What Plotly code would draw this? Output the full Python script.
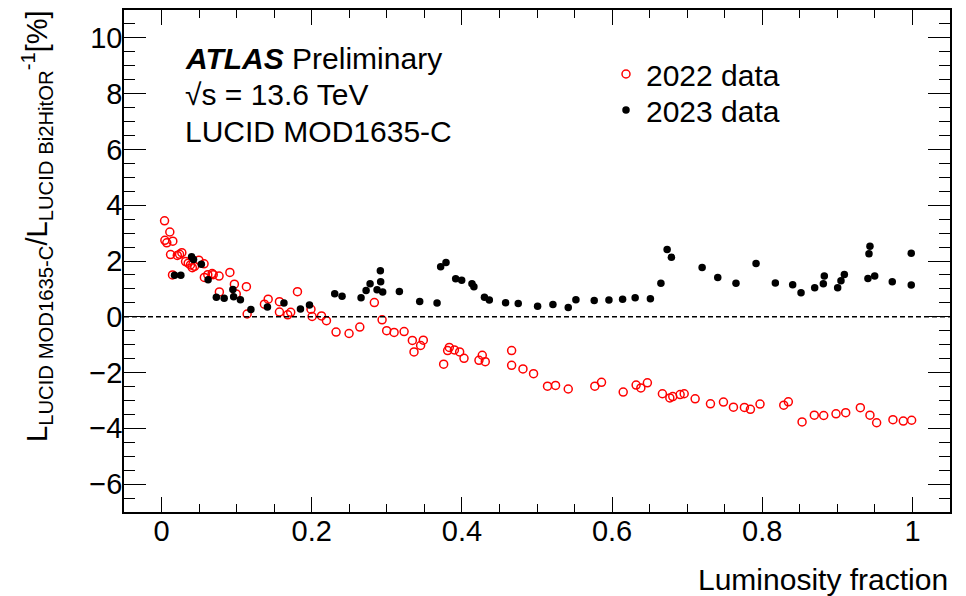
import plotly.graph_objects as go

# ---- data ----
x2022 = [0.004, 0.0044, 0.007, 0.011, 0.012, 0.015, 0.0146, 0.021, 0.024, 0.027,
         0.032, 0.0355, 0.0385, 0.041, 0.044, 0.0497, 0.0566, 0.057, 0.0616, 0.0674,
         0.0688, 0.0766, 0.077, 0.091, 0.097, 0.0995, 0.113, 0.114, 0.137, 0.142,
         0.157, 0.157, 0.168, 0.172, 0.181, 0.199, 0.2005, 0.213, 0.2196, 0.2324,
         0.2497, 0.264, 0.2834, 0.2937, 0.2998, 0.3097, 0.323, 0.334, 0.3362, 0.345,
         0.3486, 0.3757, 0.381, 0.3832, 0.39, 0.397, 0.4028, 0.4227, 0.4271, 0.4311,
         0.4662, 0.4662, 0.4813, 0.4954, 0.514, 0.5247, 0.5416, 0.577, 0.5859, 0.6148,
         0.632, 0.6383, 0.647, 0.667, 0.6769, 0.6808, 0.6906, 0.696, 0.7106, 0.731,
         0.7483, 0.7616, 0.7762, 0.7842, 0.797, 0.8286, 0.8347, 0.853, 0.8693, 0.8818,
         0.8982, 0.9111, 0.9306, 0.9434, 0.9523, 0.974, 0.9878, 0.9989]
y2022 = [3.44, 2.74, 2.65, 3.04, 2.23, 2.71, 1.50, 2.20, 2.24, 2.30,
         1.98, 1.92, 1.86, 1.76, 1.81, 2.03, 1.90, 1.41, 1.51, 1.55,
         1.51, 1.46, 0.89, 1.59, 1.17, 0.82, 1.08, 0.10, 0.45, 0.63,
         0.54, 0.17, 0.07, 0.16, 0.90, 0.27, 0.01, 0.03, -0.14, -0.55,
         -0.60, -0.37, 0.51, -0.11, -0.50, -0.56, -0.53, -0.85, -1.26, -1.03,
         -0.84, -1.70, -1.21, -1.10, -1.19, -1.26, -1.49, -1.56, -1.38, -1.61,
         -1.21, -1.74, -1.87, -2.04, -2.49, -2.46, -2.59, -2.49, -2.35, -2.70,
         -2.45, -2.55, -2.37, -2.76, -2.91, -2.86, -2.79, -2.76, -2.94, -3.12,
         -3.06, -3.24, -3.25, -3.32, -3.13, -3.17, -3.05, -3.77, -3.53, -3.54,
         -3.48, -3.44, -3.26, -3.53, -3.80, -3.69, -3.74, -3.71]

x2023 = [0.0173, 0.0257, 0.04, 0.0426, 0.053, 0.062, 0.073, 0.0834, 0.095, 0.096,
         0.105, 0.119, 0.141, 0.163, 0.185, 0.197, 0.2306, 0.2404, 0.2657, 0.2724,
         0.2777, 0.287, 0.2914, 0.2918, 0.2945, 0.3167, 0.3438, 0.3669, 0.3717, 0.3788,
         0.3917, 0.3997, 0.4134, 0.416, 0.430, 0.4365, 0.4582, 0.475, 0.5008, 0.5212,
         0.5416, 0.5518, 0.5762, 0.5958, 0.614, 0.6307, 0.651, 0.665, 0.6733, 0.679,
         0.7199, 0.7407, 0.765, 0.7917, 0.8174, 0.8405, 0.8516, 0.8698, 0.8813, 0.8826,
         0.9004, 0.9048, 0.9093, 0.9407, 0.9421, 0.9434, 0.9497, 0.9731, 0.9984, 0.9984]
y2023 = [1.49, 1.49, 2.15, 2.05, 1.88, 1.33, 0.70, 0.66, 0.98, 0.72,
         0.61, 0.26, 0.35, 0.49, 0.28, 0.42, 0.83, 0.74, 0.68, 0.94,
         1.18, 0.97, 1.65, 1.26, 0.89, 0.91, 0.55, 0.49, 1.79, 1.95,
         1.36, 1.31, 1.18, 1.08, 0.70, 0.60, 0.50, 0.48, 0.38, 0.44,
         0.33, 0.61, 0.58, 0.60, 0.63, 0.68, 0.65, 1.20, 2.41, 2.13,
         1.77, 1.41, 1.20, 1.91, 1.21, 1.15, 0.86, 1.04, 1.18, 1.46,
         1.04, 1.29, 1.52, 1.37, 2.26, 2.53, 1.46, 1.26, 2.28, 1.14]

x_ticks = [0, 0.2, 0.4, 0.6, 0.8, 1]
x_tick_labels = ["0", "0.2", "0.4", "0.6", "0.8", "1"]
y_ticks = [-6, -4, -2, 0, 2, 4, 6, 8, 10]
x_range = [-0.05, 1.05]
y_range = [-7, 11]

FONT = "Liberation Sans, Arial, Helvetica, sans-serif"

# page body has an 8px margin: figure sized so the plot box lands at x 124-950, y 10-512
W, H = 958, 588
L, R, T, B = 116, 16, 2, 84
PX0, PY1, PW, PH = 124, 512, 826, 502  # absolute plot box (incl. 8px body offset)


def px(xabs):
    return (xabs - PX0) / PW


def py(yabs):
    return (PY1 - yabs) / PH


fig = go.Figure()
fig.add_trace(go.Scatter(
    x=x2022, y=y2022, mode="markers", name="2022 data", legend="legend",
    marker=dict(symbol="circle-open", size=8, color="#ff0000",
                line=dict(width=1.5, color="#ff0000")),
))
fig.add_trace(go.Scatter(
    x=x2023, y=y2023, mode="markers", name="2023 data", legend="legend2",
    marker=dict(symbol="circle", size=7.5, color="#000000"),
))

fig.add_shape(type="line", xref="paper", yref="y", x0=0, x1=1, y0=0, y1=0,
              line=dict(color="black", width=1.5, dash="5px,3px"))

tickfont = dict(family=FONT, size=29, color="black")
base = dict(showgrid=False, zeroline=False, showline=True, linecolor="black",
            linewidth=1.5, ticks="inside", tickcolor="black", tickwidth=1.2)

xminor = dict(dtick=0.05, tick0=0, ticks="inside", ticklen=8, tickcolor="black", tickwidth=1.2)
yminor = dict(dtick=0.5, tick0=0, ticks="inside", ticklen=11, tickcolor="black", tickwidth=1.2)

fig.update_layout(
    xaxis=dict(range=x_range, tickvals=x_ticks, ticktext=x_tick_labels, ticklen=15,
               minor=xminor, tickfont=tickfont, ticklabelstandoff=-8, **base),
    yaxis=dict(range=y_range, tickvals=y_ticks, ticklen=22, minor=yminor,
               tickfont=tickfont, ticklabelstandoff=-6, **base),
    xaxis2=dict(range=x_range, tickvals=x_ticks, ticklen=15, minor=xminor,
                showticklabels=False, overlaying="x", side="top", anchor="y", **base),
    yaxis2=dict(range=y_range, tickvals=y_ticks, ticklen=22, minor=yminor,
                showticklabels=False, overlaying="y", side="right", anchor="x", **base),
)
# invisible trace to activate the mirrored tick axes
fig.add_trace(go.Scatter(x=[x_range[0]], y=[y_range[0]], xaxis="x2", yaxis="y2",
                         mode="markers", marker=dict(opacity=0), showlegend=False,
                         hoverinfo="skip"))

anns = [
    dict(text="<b><i>ATLAS</i></b> Preliminary", x=px(183), y=py(58)),
    dict(text="\u221as = 13.6 TeV", x=px(183), y=py(95)),
    dict(text="LUCID MOD1635-C", x=px(183), y=py(131)),
]
for a in anns:
    fig.add_annotation(xref="paper", yref="paper", xanchor="left", yanchor="middle",
                       showarrow=False, font=dict(family=FONT, size=30, color="black"), **a)

fig.add_annotation(xref="paper", yref="paper", x=1, y=py(580),
                   xanchor="right", yanchor="middle", showarrow=False,
                   text="Luminosity fraction", font=dict(family=FONT, size=30, color="black"))
fig.add_annotation(xref="paper", yref="paper", x=px(37), y=py(226),
                   xanchor="center", yanchor="middle", showarrow=False, textangle=-90,
                   text="L<sub>LUCID MOD1635-C</sub>/L<sub>LUCID Bi2HitOR</sub><sup>-1</sup>[%]",
                   font=dict(family=FONT, size=29, color="black"))

legfont = dict(family=FONT, size=30, color="black")
fig.update_layout(
    width=W, height=H,
    margin=dict(l=L, r=R, t=T, b=B),
    paper_bgcolor="white", plot_bgcolor="white",
    showlegend=True,
    legend=dict(x=px(606), y=py(74), xanchor="left", yanchor="middle",
                bgcolor="rgba(0,0,0,0)", borderwidth=0, font=legfont),
    legend2=dict(x=px(606), y=py(110), xanchor="left", yanchor="middle",
                 bgcolor="rgba(0,0,0,0)", borderwidth=0, font=legfont),
)

fig.write_html("out.html")
